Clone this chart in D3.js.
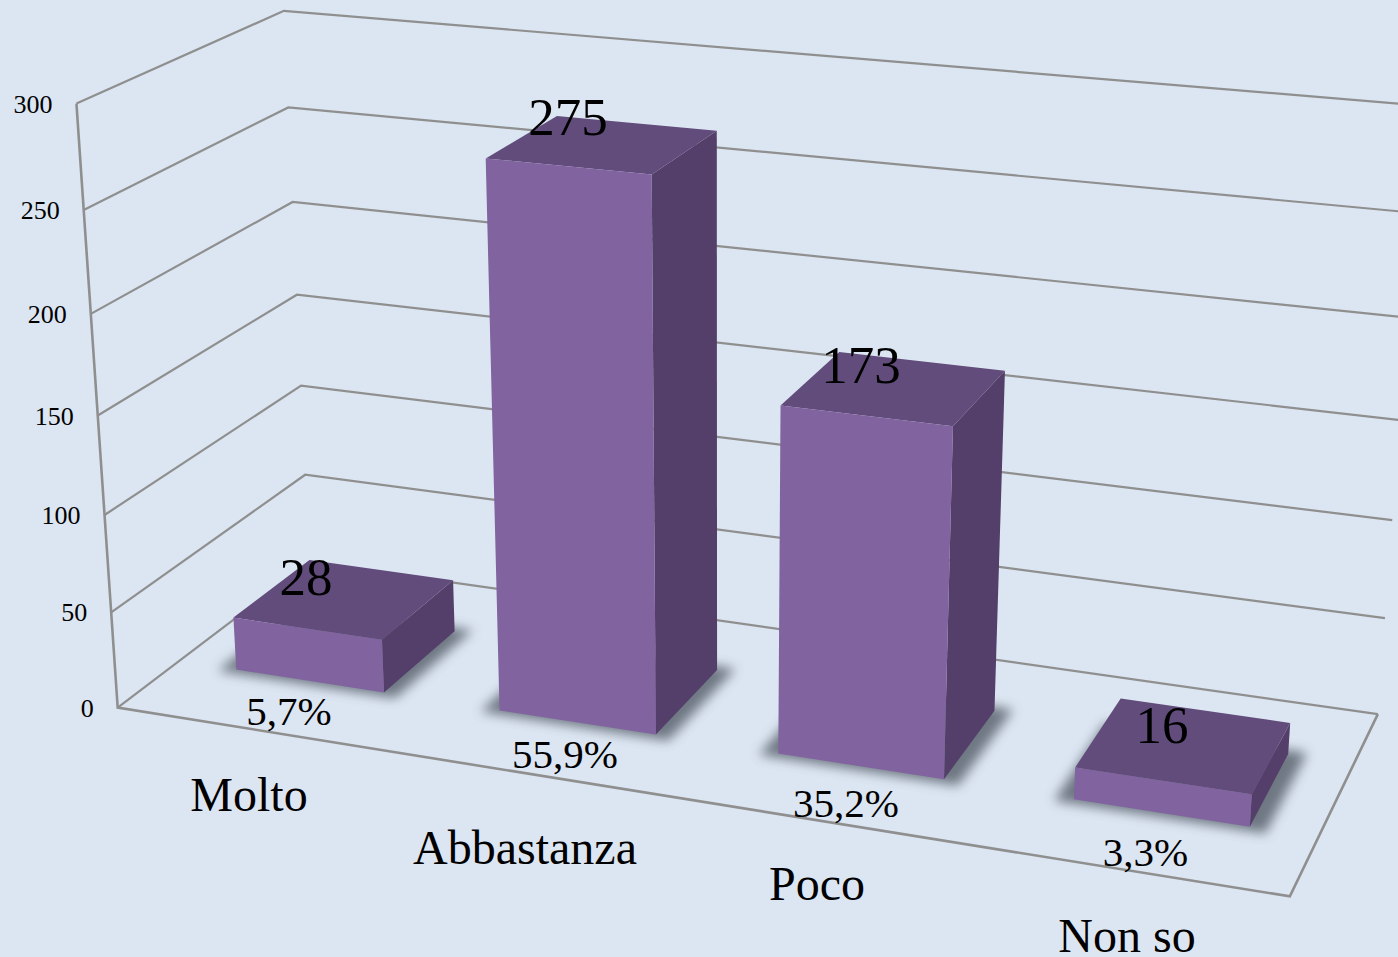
<!DOCTYPE html>
<html><head><meta charset="utf-8">
<script src="https://cdn.jsdelivr.net/npm/d3@7"></script>
<style>html,body{margin:0;padding:0;background:#dce6f2;overflow:hidden}svg{display:block}text{font-family:"Liberation Serif","Times New Roman",serif;fill:#000}</style>
</head><body><svg id="c" width="1398" height="957"></svg>
<script>
const categories=["Molto","Abbastanza","Poco","Non so"];
const counts=[28,275,173,16];
const percents=["5,7%","55,9%","35,2%","3,3%"];
const yTicks=[0,50,100,150,200,250,300];

// layout: text anchor points
const catLabelPos=[[249,811],[525,864],[817,900],[1127,952]];
const valueLabelPos=[[306,595],[568,135],[861,383],[1162,743]];
const pctLabelPos=[[289,725],[565,768],[846,817],[1145.5,866]];

// camera calibration: [width fraction, depth fraction, value] -> screen
const calib=[
[0,0,0,118,709],[0,0,50,111,612],[0,0,100,104,514],[0,0,150,97,413],[0,0,200,91,316],[0,0,250,84,211],[0,0,300,77,103],
[0,1,50,305,474],[0,1,100,301,386],[0,1,150,298,295],[0,1,200,293,202],[0,1,250,288,107],[0,1,300,283,11],
[1,1,0,1376,713],[1,1,50,1385,620],[1,1,100,1391,520],[1,1,150,1403,420],[1,1,200,1410,318],[1,1,250,1415,213],[1,1,300,1420,105],
[1,0,0,1290,896]];

const y=d3.scaleLinear().domain([0,300]).range([0,1]);
const band=d3.scaleBand().domain(categories).range([0.002,1.0]).paddingInner(0.432).paddingOuter(0.216);
const depth=d3.scaleLinear().domain([0,1]).range([0.30,0.705]);

function solve(A,b){const n=b.length;const M=A.map((r,i)=>[...r,b[i]]);
 for(let i=0;i<n;i++){let p=i;for(let k=i+1;k<n;k++)if(Math.abs(M[k][i])>Math.abs(M[p][i]))p=k;[M[i],M[p]]=[M[p],M[i]];
  for(let k=i+1;k<n;k++){const f=M[k][i]/M[i][i];for(let j=i;j<=n;j++)M[k][j]-=f*M[i][j];}}
 const x=Array(n).fill(0);for(let i=n-1;i>=0;i--){let s=M[i][n];for(let j=i+1;j<n;j++)s-=M[i][j]*x[j];x[i]=s/M[i][i];}return x;}
const rows=[],rhs=[];
calib.forEach(([u,v,val,px,py])=>{const h=y(val),X=px/1000,Y=py/1000;
 rows.push([u,v,h,1,0,0,0,0,-X*u,-X*v,-X*h]);rhs.push(X);
 rows.push([0,0,0,0,u,v,h,1,-Y*u,-Y*v,-Y*h]);rhs.push(Y);});
const ATA=d3.range(11).map(i=>d3.range(11).map(j=>d3.sum(rows,r=>r[i]*r[j])));
const ATb=d3.range(11).map(i=>d3.sum(rows,(r,k)=>r[i]*rhs[k]));
const P=solve(ATA,ATb);
function project(u,v,val){const h=y(val),w=P[8]*u+P[9]*v+P[10]*h+1;
 return [1000*(P[0]*u+P[1]*v+P[2]*h+P[3])/w,1000*(P[4]*u+P[5]*v+P[6]*h+P[7])/w];}

const svg=d3.select("#c");
svg.append("rect").attr("width",1398).attr("height",957).attr("fill","#dce6f2");
const defs=svg.append("defs");
defs.append("filter").attr("id","blur").attr("x","-30%").attr("y","-30%").attr("width","160%").attr("height","160%")
 .append("feGaussianBlur").attr("stdDeviation",6);
const line=d3.line();
const grid=svg.append("g").attr("fill","none").attr("stroke","#8f8f8f").attr("stroke-width",2.2);
yTicks.forEach(t=>{
 grid.append("path").attr("d",line([project(0,0,t),project(0,1,t),project(1,1,t)]));
});
svg.append("path").attr("fill","none").attr("stroke","#8f8f8f").attr("stroke-width",2.6)
 .attr("d",line([project(0,0,300),project(0,0,0),project(1,0,0),project(1,1,0)]));

svg.append("g").selectAll("text").data(yTicks).join("text")
 .attr("x",d=>project(0,0,d)[0]-24).attr("y",d=>project(0,0,d)[1]+9)
 .attr("text-anchor","end").attr("font-size",26).text(d=>d);

const du=0.014,dv=0.022;
categories.forEach((c,i)=>{
 const u0=band(c),u1=u0+band.bandwidth(),v0=depth(0),v1=depth(1),val=counts[i];
 const poly=(pts,fill)=>svg.append("path").attr("d",line(pts)+"Z").attr("fill",fill);
 poly([project(u0-du,v0-dv,0),project(u1+du,v0-dv,0),project(u1+du,v1+dv,0),project(u0-du,v1+dv,0)],"#454d58")
  .attr("filter","url(#blur)").attr("opacity",0.72);
 poly([project(u1,v0,0),project(u1,v1,0),project(u1,v1,val),project(u1,v0,val)],"#533f69");
 poly([project(u0,v0,val),project(u1,v0,val),project(u1,v1,val),project(u0,v1,val)],"#624c7c");
 poly([project(u0,v0,0),project(u1,v0,0),project(u1,v0,val),project(u0,v0,val)],"#80639f");
});
const labels=(arr,pos,size)=>svg.append("g").selectAll("text").data(arr).join("text")
 .attr("x",(d,i)=>pos[i][0]).attr("y",(d,i)=>pos[i][1]).attr("text-anchor","middle").attr("font-size",size).text(d=>d);
labels(percents,pctLabelPos,41);
labels(counts,valueLabelPos,53);
labels(categories,catLabelPos,48);
</script></body></html>
